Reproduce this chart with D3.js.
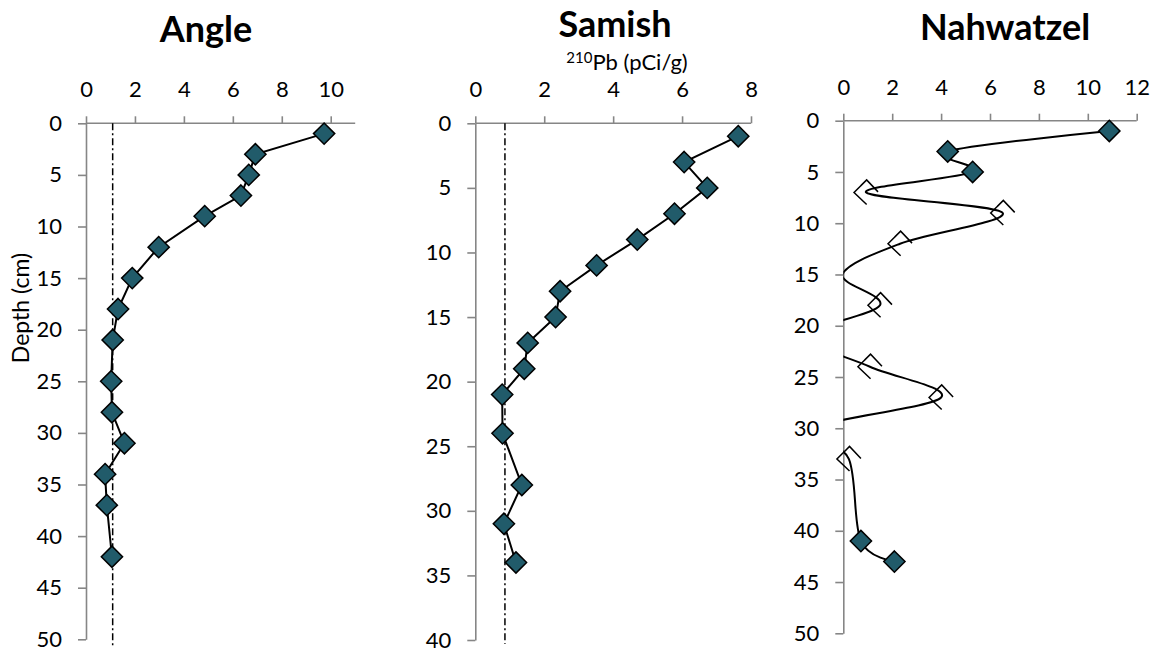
<!DOCTYPE html>
<html>
<head>
<meta charset="utf-8">
<script src="https://cdn.jsdelivr.net/npm/d3@7"></script>
<style>
  body { margin: 0; background: #fff; }
  svg text { font-family: Lato, "Open Sans", sans-serif; fill: #000; }
</style>
</head>
<body>
<svg id="chart" width="1153" height="652"></svg>
<script>
// 210Pb activity profiles (pCi/g) against sediment depth (cm) for three lake cores.

// Angle core
const angleDepth = [1, 3, 5, 7, 9, 12, 15, 18, 21, 25, 28, 31, 34, 37, 42];
const anglePb    = [9.73, 6.92, 6.65, 6.33, 4.85, 2.97, 1.89, 1.31, 1.09, 1.03, 1.06, 1.57, 0.78, 0.85, 1.06];
const angleSupported = 1.09;          // supported (background) 210Pb
const angleSupportedDepth = [0, 50.8];

// Samish core
const samishDepth = [1, 3, 5, 7, 9, 11, 13, 15, 17, 19, 21, 24, 28, 31, 34];
const samishPb    = [7.63, 6.06, 6.73, 5.78, 4.70, 3.52, 2.46, 2.33, 1.52, 1.42, 0.78, 0.79, 1.35, 0.83, 1.18];
const samishSupported = 0.86;
const samishSupportedDepth = [0, 40.3];

// Nahwatzel core (values below zero fall outside the axis; only the smoothed line reaches toward them)
const nahDepth  = [1, 3, 5, 7, 9, 12, 15, 18, 21, 24, 27, 30, 33, 41, 43];
const nahPb     = [10.88, 4.27, 5.29, 0.93, 6.52, 2.32, -0.03, 1.5, -1.5, 1.09, 4.0, -1.2, 0.23, 0.72, 2.09];
const nahMarker = ["filled", "filled", "filled", "open", "open", "open", "open", "open", "open", "open", "open", "open", "open", "filled", "filled"];

// Axis ticks
const angleXTicks = [0, 2, 4, 6, 8, 10];
const samishXTicks = [0, 2, 4, 6, 8];
const nahXTicks = [0, 2, 4, 6, 8, 10, 12];
const depthTicks50 = [0, 5, 10, 15, 20, 25, 30, 35, 40, 45, 50];
const depthTicks40 = [0, 5, 10, 15, 20, 25, 30, 35, 40];

// Text
const titles = ["Angle", "Samish", "Nahwatzel"];
const yAxisTitle = "Depth (cm)";

const svg = d3.select("#chart");
const axisColor = "#868686";
const markerFill = "#215B6A";

const panels = [
  { title: titles[0], depth: angleDepth, pb: anglePb, supported: angleSupported, supportedDepth: angleSupportedDepth,
    xDomain: [0, 11], xRange: [86, 355.2], yDomain: [0, 50], yRange: [123.3, 639.3],
    xTicks: angleXTicks, yTicks: depthTicks50, curve: d3.curveLinear, titleX: 206, titleY: 42 },
  { title: titles[1], depth: samishDepth, pb: samishPb, supported: samishSupported, supportedDepth: samishSupportedDepth,
    xDomain: [0, 8], xRange: [475.3, 751], yDomain: [0, 40], yRange: [123.3, 640],
    xTicks: samishXTicks, yTicks: depthTicks40, curve: d3.curveLinear, titleX: 615, titleY: 37 },
  { title: titles[2], depth: nahDepth, pb: nahPb, marker: nahMarker,
    xDomain: [0, 12], xRange: [843.3, 1136.7], yDomain: [0, 50], yRange: [120.7, 633.3],
    xTicks: nahXTicks, yTicks: depthTicks50, curve: d3.curveCatmullRom.alpha(0), titleX: 1005, titleY: 40 }
];

const diamondR = 12;
const filledDiamond = d3.symbol().type(d3.symbolDiamond2).size(2 * diamondR * diamondR)();

// Open marker: outlined diamond drawn as two offset chevrons
function openMarkerPath(s) {
  return `M${0.05 * s},${s} L${-s},0 L${-0.1 * s},${-0.9 * s} ` +
         `M${-0.45 * s},${-0.55 * s} L${0.05 * s},${-1.05 * s} L${s},${-0.05 * s}`;
}

panels.forEach((p, i) => {
  const x = d3.scaleLinear().domain(p.xDomain).range(p.xRange);
  const y = d3.scaleLinear().domain(p.yDomain).range(p.yRange);
  const g = svg.append("g");

  // clip region = plot area
  const clipId = "clip" + i;
  svg.append("clipPath").attr("id", clipId)
    .append("rect")
    .attr("x", p.xRange[0]).attr("y", p.yRange[0] - 20)
    .attr("width", p.xRange[1] - p.xRange[0] + 20)
    .attr("height", p.yRange[1] - p.yRange[0] + 30);

  // axes
  const xAxis = d3.axisTop(x).tickValues(p.xTicks).tickSizeInner(7).tickSizeOuter(0).tickPadding(19)
    .tickFormat(d3.format("d"));
  const yAxis = d3.axisLeft(y).tickValues(p.yTicks).tickSizeInner(8).tickSizeOuter(0).tickPadding(16)
    .tickFormat(d3.format("d"));

  const gx = g.append("g").attr("transform", `translate(0,${p.yRange[0]})`).call(xAxis);
  const gy = g.append("g").attr("transform", `translate(${p.xRange[0]},0)`).call(yAxis);
  [gx, gy].forEach(a => {
    a.select(".domain").attr("stroke", axisColor).attr("stroke-width", 1.6);
    a.selectAll(".tick line").attr("stroke", axisColor).attr("stroke-width", 1.6);
    a.selectAll(".tick text").attr("font-size", 22).attr("fill", "#000")
      .style("font-family", "Lato, 'Open Sans', sans-serif");
  });
  // x-axis line runs to the full domain end
  gx.select(".domain").attr("d", `M${p.xRange[0]},0H${p.xRange[1]}`);

  // supported 210Pb reference line
  if (p.supported !== undefined) {
    g.append("line")
      .attr("x1", x(p.supported)).attr("x2", x(p.supported))
      .attr("y1", y(p.supportedDepth[0])).attr("y2", y(p.supportedDepth[1]))
      .attr("stroke", "#000").attr("stroke-width", 1.5)
      .attr("stroke-dasharray", "7,3,2,3");
  }

  const pts = p.depth.map((d, k) => ({ depth: d, pb: p.pb[k], marker: p.marker ? p.marker[k] : "filled" }));

  // profile line
  const line = d3.line().x(d => x(d.pb)).y(d => y(d.depth)).curve(p.curve);
  g.append("path")
    .attr("d", line(pts))
    .attr("fill", "none").attr("stroke", "#000").attr("stroke-width", 2)
    .attr("clip-path", `url(#${clipId})`);

  // markers (only values inside the axis range are drawn)
  const visible = pts.filter(d => d.pb >= p.xDomain[0]);
  g.selectAll("path.filled")
    .data(visible.filter(d => d.marker === "filled"))
    .join("path").attr("class", "filled")
    .attr("transform", d => `translate(${x(d.pb)},${y(d.depth)})`)
    .attr("d", filledDiamond)
    .attr("fill", markerFill).attr("stroke", "#000").attr("stroke-width", 1.5);
  g.selectAll("path.open")
    .data(visible.filter(d => d.marker === "open"))
    .join("path").attr("class", "open")
    .attr("transform", d => `translate(${x(d.pb)},${y(d.depth)})`)
    .attr("d", openMarkerPath(diamondR))
    .attr("fill", "none").attr("stroke", "#000").attr("stroke-width", 1.5);

  // title
  svg.append("text")
    .attr("x", p.titleX).attr("y", p.titleY)
    .attr("text-anchor", "middle")
    .attr("font-size", 36).attr("font-weight", 700)
    .text(p.title);
});

// shared x-axis title with superscript isotope mass number
const sub = svg.append("text")
  .attr("x", 627).attr("y", 70)
  .attr("text-anchor", "middle")
  .attr("font-size", 22);
sub.append("tspan").attr("font-size", 15).attr("dy", -7).text("210");
sub.append("tspan").attr("dy", 7).text("Pb (pCi/g)");

// shared y-axis title
svg.append("text")
  .attr("transform", "translate(29,308) rotate(-90)")
  .attr("text-anchor", "middle")
  .attr("font-size", 23)
  .text(yAxisTitle);
</script>
</body>
</html>
